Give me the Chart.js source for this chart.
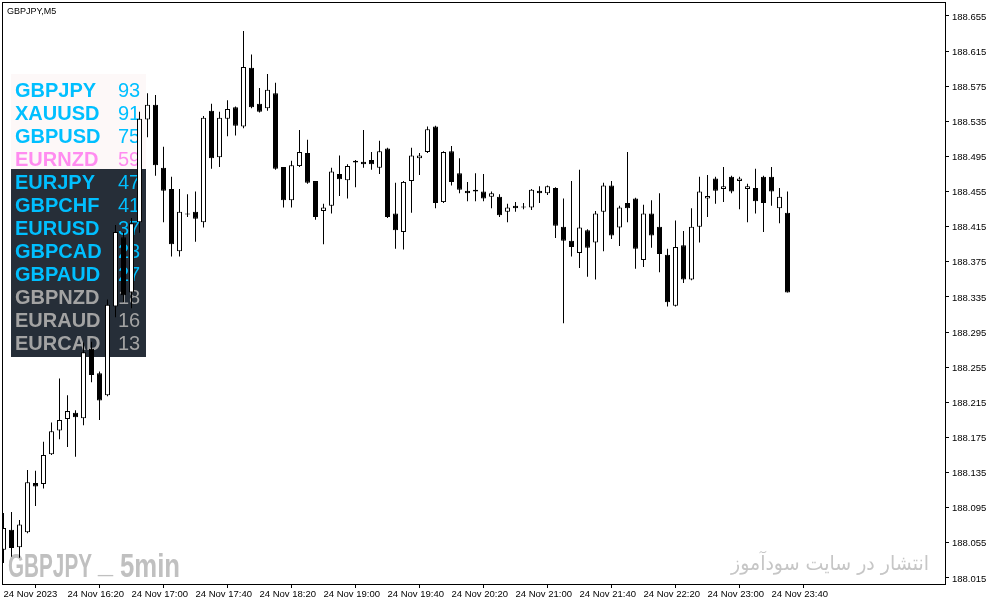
<!DOCTYPE html>
<html>
<head>
<meta charset="utf-8">
<script src="https://cdn.jsdelivr.net/npm/chart.js@4.4.0/dist/chart.umd.min.js"></script>
<style>
  html, body { margin: 0; padding: 0; background: #fff; }
  canvas { display: block; }
</style>
</head>
<body>
<canvas id="gbpjpy-chart" width="991" height="605"></canvas>
<script>
// GBPJPY M5 candles, 24 Nov 2023 from 15:40
const opens = [188.047, 188.070, 188.050, 188.067, 188.123, 188.122, 188.156, 188.183, 188.196, 188.203,
  188.197, 188.276, 188.248, 188.223, 188.324, 188.403, 188.340, 188.420, 188.537, 188.554,
  188.482, 188.458, 188.387, 188.430, 188.432, 188.420, 188.547, 188.494, 188.538, 188.551,
  188.529, 188.596, 188.555, 188.550, 188.567, 188.483, 188.445, 188.484, 188.499, 188.467,
  188.433, 188.439, 188.475, 188.468, 188.488, 188.489, 188.491, 188.482, 188.504, 188.430,
  188.409, 188.467, 188.493, 188.500, 188.529, 188.443, 188.501, 188.476, 188.456, 188.457,
  188.455, 188.449, 188.449, 188.432, 188.439, 188.437, 188.437, 188.456, 188.453, 188.459,
  188.415, 188.399, 188.385, 188.411, 188.397, 188.432, 188.462, 188.414, 188.442, 188.447,
  188.377, 188.430, 188.415, 188.383, 188.325, 188.394, 188.355, 188.415, 188.447, 188.470,
  188.458, 188.472, 188.467, 188.458, 188.459, 188.472, 188.472, 188.436, 188.431];
const highs = [188.089, 188.090, 188.081, 188.138, 188.137, 188.170, 188.192, 188.242, 188.223, 188.206,
  188.283, 188.284, 188.250, 188.332, 188.417, 188.409, 188.425, 188.546, 188.567, 188.565,
  188.506, 188.472, 188.458, 188.452, 188.455, 188.541, 188.555, 188.546, 188.559, 188.552,
  188.638, 188.611, 188.573, 188.589, 188.579, 188.483, 188.490, 188.525, 188.514, 188.467,
  188.441, 188.482, 188.496, 188.486, 188.491, 188.525, 188.500, 188.513, 188.505, 188.465,
  188.467, 188.505, 188.499, 188.529, 188.530, 188.501, 188.507, 188.493, 188.466, 188.476,
  188.475, 188.455, 188.452, 188.441, 188.443, 188.442, 188.458, 188.461, 188.462, 188.460,
  188.447, 188.467, 188.480, 188.412, 188.433, 188.465, 188.467, 188.439, 188.500, 188.448,
  188.440, 188.445, 188.453, 188.390, 188.422, 188.410, 188.436, 188.472, 188.474, 188.472,
  188.483, 188.473, 188.472, 188.464, 188.481, 188.473, 188.483, 188.459, 188.455];
const lows = [188.032, 188.039, 188.038, 188.066, 188.097, 188.117, 188.155, 188.173, 188.164, 188.153,
  188.189, 188.238, 188.195, 188.222, 188.312, 188.329, 188.322, 188.408, 188.517, 188.473,
  188.420, 188.381, 188.381, 188.426, 188.398, 188.414, 188.481, 188.483, 188.518, 188.519,
  188.527, 188.550, 188.545, 188.547, 188.480, 188.437, 188.437, 188.483, 188.464, 188.423,
  188.395, 188.430, 188.450, 188.447, 188.460, 188.482, 188.480, 188.475, 188.425, 188.390,
  188.389, 188.431, 188.474, 188.499, 188.436, 188.442, 188.462, 188.453, 188.444, 188.444,
  188.444, 188.436, 188.426, 188.420, 188.432, 188.435, 188.434, 188.442, 188.451, 188.402,
  188.305, 188.381, 188.368, 188.358, 188.355, 188.387, 188.401, 188.393, 188.420, 188.367,
  188.369, 188.391, 188.363, 188.324, 188.324, 188.351, 188.354, 188.397, 188.426, 188.441,
  188.443, 188.453, 188.435, 188.420, 188.430, 188.409, 188.439, 188.419, 188.340];
const closes = [188.072, 188.049, 188.076, 188.124, 188.119, 188.155, 188.182, 188.195, 188.205, 188.198,
  188.272, 188.246, 188.217, 188.326, 188.409, 188.337, 188.419, 188.538, 188.554, 188.485,
  188.456, 188.395, 188.432, 188.429, 188.424, 188.539, 188.493, 188.539, 188.549, 188.530,
  188.597, 188.551, 188.546, 188.571, 188.481, 188.445, 188.485, 188.500, 188.465, 188.426,
  188.437, 188.478, 188.469, 188.484, 188.490, 188.486, 188.486, 188.501, 188.426, 188.411,
  188.466, 188.496, 188.496, 188.526, 188.442, 188.500, 188.466, 188.457, 188.453, 188.455,
  188.447, 188.453, 188.428, 188.437, 188.436, 188.437, 188.457, 188.453, 188.461, 188.416,
  188.399, 188.392, 188.414, 188.391, 188.430, 188.462, 188.405, 188.437, 188.436, 188.390,
  188.430, 188.405, 188.384, 188.329, 188.392, 188.355, 188.415, 188.455, 188.450, 188.456,
  188.461, 188.455, 188.470, 188.461, 188.444, 188.442, 188.455, 188.449, 188.340];

const timeLabels = ['24 Nov 2023', '24 Nov 16:20', '24 Nov 17:00', '24 Nov 17:40', '24 Nov 18:20',
  '24 Nov 19:00', '24 Nov 19:40', '24 Nov 20:20', '24 Nov 21:00', '24 Nov 21:40', '24 Nov 22:20',
  '24 Nov 23:00', '24 Nov 23:40'];
const timeTickBars = [0, 8, 16, 24, 32, 40, 48, 56, 64, 72, 80, 88, 96];
const priceTicks = [188.015, 188.055, 188.095, 188.135, 188.175, 188.215, 188.255, 188.295, 188.335,
  188.375, 188.415, 188.455, 188.495, 188.535, 188.575, 188.615, 188.655];

// currency strength panel
const pairNames = ['GBPJPY', 'XAUUSD', 'GBPUSD', 'EURNZD', 'EURJPY', 'GBPCHF', 'EURUSD', 'GBPCAD',
  'GBPAUD', 'GBPNZD', 'EURAUD', 'EURCAD'];
const pairScores = [93, 91, 75, 59, 47, 41, 37, 23, 27, 18, 16, 13];

const priceMin = 188.0081;
const priceMax = 188.6709;

function rowColor(i) {
  if (pairNames[i] === 'EURNZD') return '#ff8cf0';
  if (i >= 9) return '#a3a3a3';
  return '#00bfff';
}

const backdrop = {
  id: 'backdrop',
  beforeDatasetsDraw(chart) {
    const c = chart.ctx;
    c.save();
    c.fillStyle = '#fdf8f8';
    c.fillRect(11, 74, 135, 95);
    c.fillStyle = '#262e38';
    c.fillRect(11, 169, 135, 188);
    c.textBaseline = 'alphabetic';
    c.textAlign = 'left';
    pairNames.forEach((name, i) => {
      const y = 97 + i * 23;
      c.fillStyle = rowColor(i);
      c.font = 'bold 20px "Liberation Sans", Arial, sans-serif';
      c.fillText(name, 15, y);
      c.font = '20px "Liberation Sans", Arial, sans-serif';
      c.fillText(String(pairScores[i]), 118, y);
    });

    // watermark
    c.fillStyle = '#c0c0c0';
    c.font = 'bold 33px "Liberation Sans", Arial, sans-serif';
    c.fillText('GBPJPY', 8, 577, 84);
    c.fillText('_', 98, 572, 15);
    c.fillText('5min', 120, 577, 60);

    c.fillStyle = '#c6c6c6';
    c.font = '20px "DejaVu Sans", sans-serif';
    c.textAlign = 'right';
    c.fillText('انتشار در سایت سودآموز', 929, 570, 198);

    c.textAlign = 'left';
    c.fillStyle = '#000';
    c.font = '9px "Liberation Sans", Arial, sans-serif';
    c.fillText('GBPJPY,M5', 7, 14);
    c.restore();
  },
  afterDraw(chart) {
    const c = chart.ctx;
    c.save();
    c.strokeStyle = '#000';
    c.lineWidth = 1;
    c.strokeRect(2.5, 2.5, 943, 582);
    c.restore();
  }
};

const canvasCtx = document.getElementById('gbpjpy-chart').getContext('2d');
const wickData = opens.map((o, i) => ({ x: i, y: [lows[i], highs[i]] }));
const bodyData = opens.map((o, i) => ({ x: i, y: [o, closes[i]] }));

new Chart(canvasCtx, {
  type: 'bar',
  data: {
    datasets: [
      {
        label: 'Wick',
        data: wickData,
        backgroundColor: '#000',
        borderWidth: 0,
        barThickness: 1,
        minBarLength: 1,
        grouped: false,
        inflateAmount: 0,
        order: 2
      },
      {
        label: 'Body',
        data: bodyData,
        backgroundColor: c => (closes[c.dataIndex] >= opens[c.dataIndex] ? '#ffffff' : '#000000'),
        borderColor: '#000',
        borderWidth: 1,
        borderSkipped: false,
        barThickness: 5,
        minBarLength: 1,
        grouped: false,
        inflateAmount: 0,
        order: 1
      }
    ]
  },
  options: {
    responsive: false,
    animation: false,
    devicePixelRatio: 1,
    layout: { padding: { left: 2, top: 2, right: 0, bottom: 0 }, autoPadding: false },
    plugins: {
      legend: { display: false },
      tooltip: { enabled: false }
    },
    scales: {
      x: {
        type: 'linear',
        min: -0.1875,
        max: 117.6875,
        offset: false,
        border: { display: false },
        grid: { display: true, drawOnChartArea: false, drawTicks: true, tickLength: 4, color: '#000' },
        afterBuildTicks: scale => { scale.ticks = timeTickBars.map(v => ({ value: v })); },
        afterFit: scale => { scale.height = 21; scale.paddingLeft = 0; scale.paddingRight = 0; },
        ticks: {
          align: 'start',
          padding: 1,
          maxRotation: 0,
          autoSkip: false,
          color: '#000',
          font: { family: 'Tahoma, "Liberation Sans", sans-serif', size: 9.5 },
          callback: v => timeLabels[timeTickBars.indexOf(v)]
        }
      },
      y: {
        type: 'linear',
        position: 'right',
        min: priceMin,
        max: priceMax,
        border: { display: false },
        grid: { display: true, drawOnChartArea: false, drawTicks: true, tickLength: 4, color: '#000' },
        afterBuildTicks: scale => { scale.ticks = priceTicks.map(v => ({ value: v })); },
        afterFit: scale => { scale.width = 46; scale.paddingTop = 0; scale.paddingBottom = 0; },
        ticks: {
          padding: 3,
          autoSkip: false,
          labelOffset: 1,
          color: '#000',
          font: { family: 'Tahoma, "Liberation Sans", sans-serif', size: 9.5 },
          callback: v => v.toFixed(3)
        }
      }
    }
  },
  plugins: [backdrop]
});
</script>
</body>
</html>
